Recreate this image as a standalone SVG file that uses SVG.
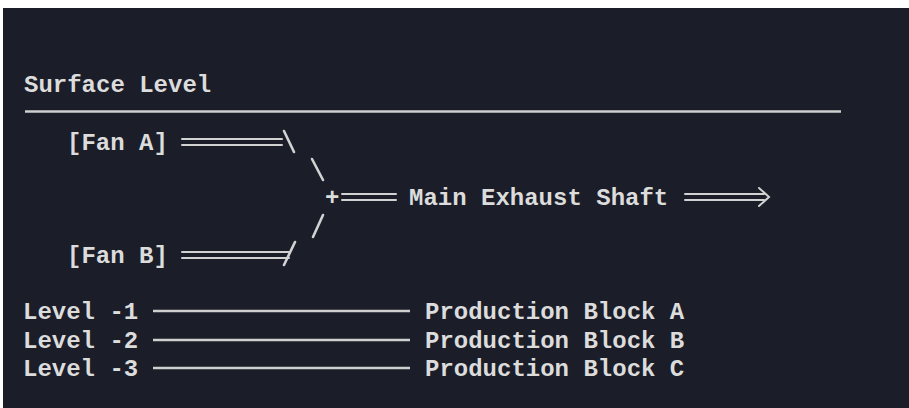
<svg xmlns="http://www.w3.org/2000/svg" width="909" height="408" viewBox="0 0 909 408">
  <style>
    .t { font-family: "Liberation Mono", "DejaVu Sans Mono", monospace; font-size: 24px; font-weight: bold; fill: #dcdcdc; }
    .c { stroke: #d2d2d2; stroke-width: 2; fill: none; stroke-linecap: round; }
    .d { stroke: #d2d2d2; stroke-width: 2.6; fill: none; stroke-linecap: round; }
    .s { stroke: #cfcfcf; stroke-width: 2.6; fill: none; }
  </style>
  <rect x="0" y="0" width="909" height="408" fill="#ffffff"/>
  <rect x="3" y="8" width="906" height="400" fill="#1b1e29"/>

  <g id="surface">
    <text class="t" x="24" y="92">Surface Level</text>
    <line class="s" x1="25" y1="111.5" x2="841" y2="111.5"/>
  </g>
  <g id="fan-a"><text class="t" x="67" y="150">[Fan A]</text></g>
  <g id="fan-b"><text class="t" x="67" y="263">[Fan B]</text></g>
  <g id="junction"><text class="t" x="325" y="205">+</text></g>
  <g id="main-shaft"><text class="t" x="409" y="205">Main Exhaust Shaft</text></g>
  <g id="level-1"><text class="t" x="23" y="319">Level -1</text></g>
  <g id="level-2"><text class="t" x="23" y="348">Level -2</text></g>
  <g id="level-3"><text class="t" x="23" y="376">Level -3</text></g>
  <g id="block-a"><text class="t" x="425" y="319">Production Block A</text></g>
  <g id="block-b"><text class="t" x="425" y="348">Production Block B</text></g>
  <g id="block-c"><text class="t" x="425" y="376">Production Block C</text></g>

  <g id="connectors">
    <!-- Fan A double line and backslashes -->
    <line class="c" x1="182" y1="139" x2="282" y2="139"/>
    <line class="c" x1="182" y1="145" x2="282" y2="145"/>
    <line class="d" x1="284" y1="131" x2="294" y2="152"/>
    <line class="d" x1="312" y1="159" x2="323" y2="180"/>
    <!-- Fan B double line and slashes -->
    <line class="c" x1="182" y1="252" x2="289" y2="252"/>
    <line class="c" x1="182" y1="258" x2="289" y2="258"/>
    <line class="d" x1="295" y1="242" x2="284" y2="265"/>
    <line class="d" x1="323" y1="215" x2="313" y2="237"/>
    <!-- junction to main shaft -->
    <line class="c" x1="342" y1="194" x2="396" y2="194"/>
    <line class="c" x1="342" y1="200" x2="396" y2="200"/>
    <!-- outlet arrow -->
    <line class="c" x1="685" y1="194" x2="764" y2="194"/>
    <line class="c" x1="685" y1="200" x2="764" y2="200"/>
    <polyline class="c" points="759,188 769,197 759,206"/>
    <!-- level lines -->
    <line class="s" x1="153" y1="311" x2="410" y2="311"/>
    <line class="s" x1="153" y1="340" x2="410" y2="340"/>
    <line class="s" x1="153" y1="368" x2="410" y2="368"/>
  </g>
</svg>
